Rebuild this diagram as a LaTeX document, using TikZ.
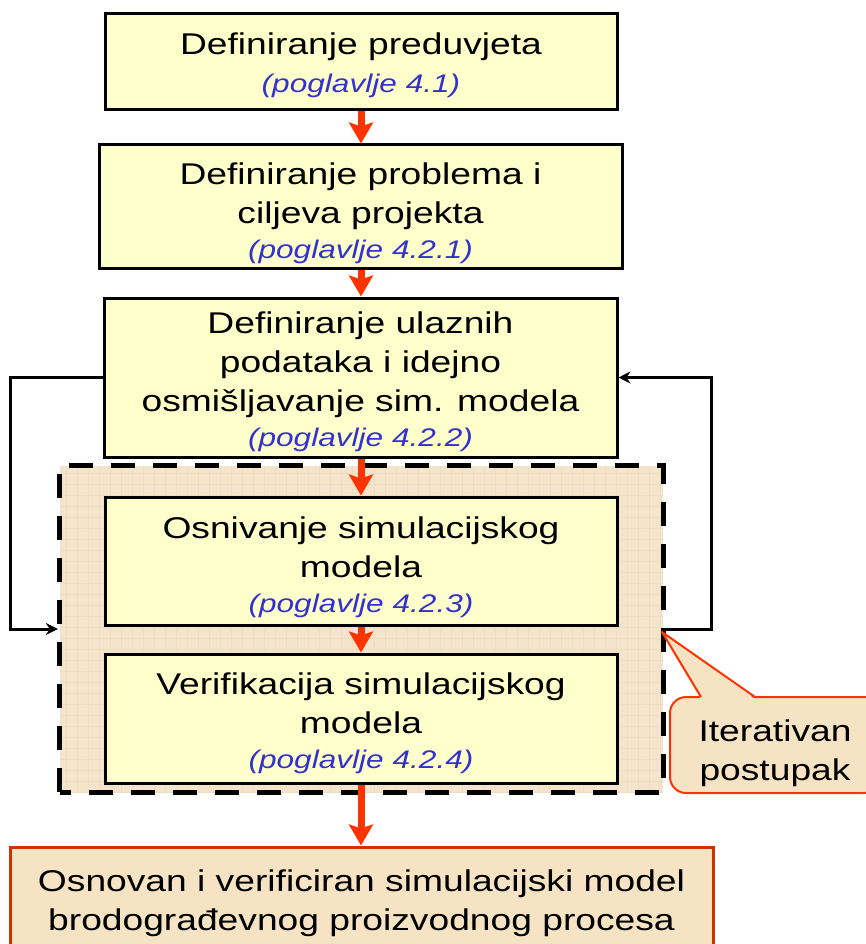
\documentclass[tikz,border=0pt]{standalone}
\usepackage{fontspec}
\setmainfont{Liberation Sans}[FakeStretch=1.24]
\usetikzlibrary{positioning,arrows.meta}
\definecolor{boxyellow}{HTML}{FFFFCC}
\definecolor{refblue}{HTML}{3333CC}
\definecolor{flowred}{HTML}{FF3300}
\definecolor{wheatfill}{HTML}{F5E3C4}
\definecolor{gridtan}{HTML}{F3E4CB}
\definecolor{gridline}{HTML}{EEDDBF}
\definecolor{resultedge}{HTML}{CC3300}
\newcommand{\chap}[1]{{\fontsize{25.5}{30}\selectfont\itshape\color{refblue}(poglavlje #1)}}
\newcommand{\lowerby}[1]{\rule{0pt}{#1pt}}
\tikzset{
x=1pt, y=-1pt,
stepbox/.style={draw=black, line width=3pt, fill=boxyellow, align=center,
  inner sep=0pt, font=\fontsize{30}{39}\selectfont}, % yellow process boxes
flow/.style={draw=flowred, line width=7pt,
  -{Stealth[length=21pt, width=24pt, inset=4pt, fill=flowred]}}, % thick red arrows
loopline/.style={draw=black, line width=3pt, -{Stealth[length=12pt, width=12pt, inset=4pt]}},
}
\begin{document}
\begin{tikzpicture}
\useasboundingbox (0,0) rectangle (866,944);

% iterative region
\node[minimum width=603pt, minimum height=326pt, inner sep=0pt] (iter) at (361.5,629) {};
\fill[gridtan] (iter.south west) rectangle (iter.north east);
\begin{scope}
  \clip (iter.south west) rectangle (iter.north east);
  \draw[gridline, line width=0.6pt, step=11pt] (iter.south west) grid (iter.north east);
\end{scope}
\draw[line width=5pt, dash pattern=on 24pt off 18pt] (iter.south west) rectangle (iter.north east);

\node[stepbox, minimum width=512pt, minimum height=96pt] (prereq) at (361,62)
  {\lowerby{28}Definiranje preduvjeta\\[-1pt] \chap{4.1}};
\node[stepbox, minimum width=523pt, minimum height=123pt] (goals) at (360.5,206.5)
  {\lowerby{36}Definiranje problema i\\ ciljeva projekta\\[-4pt] \chap{4.2.1}};
\node[stepbox, minimum width=513pt, minimum height=159pt] (inputs) at (360.5,377.5)
  {\lowerby{31}Definiranje ulaznih\\ podataka i idejno\\ osmišljavanje sim. modela\\[-4pt] \chap{4.2.2}};
\node[stepbox, minimum width=512pt, minimum height=128pt] (build) at (361,561)
  {\lowerby{34}Osnivanje simulacijskog\\ modela\\[-4pt] \chap{4.2.3}};
\node[stepbox, minimum width=512pt, minimum height=129pt, below=26pt of build] (verify)
  {\lowerby{32}Verifikacija simulacijskog\\ modela\\[-4pt] \chap{4.2.4}};
\node[draw=resultedge, line width=3pt, fill=wheatfill, align=center, inner sep=0pt,
  font=\fontsize{30}{39}\selectfont, minimum width=703pt, minimum height=104pt] (result) at (361.5,899)
  {\lowerby{30}Osnovan i verificiran simulacijski model\\ brodograđevnog proizvodnog procesa};

% callout
\node[draw=flowred, line width=2pt, fill=wheatfill, rounded corners=16pt, align=center,
  font=\fontsize{30}{39}\selectfont, minimum width=210pt, minimum height=96pt, inner sep=0pt] (note) at (775,745)
  {\lowerby{39}Iterativan\\ postupak};
\coordinate (tip) at (662,632);
\fill[wheatfill] (701,699) -- (tip) -- (755,699) -- cycle;
\draw[flowred, line width=2pt, line join=round] (701,697) -- (tip) -- (755,697);

% flow arrows
\draw[flow] (prereq.south) -- (goals.north -| prereq.south);
\draw[flow] (goals.south -| prereq.south) -- (inputs.north -| prereq.south);
\draw[flow] (inputs.south -| prereq.south) -- (build.north -| prereq.south);
\draw[flow] (build.south -| prereq.south) -- (verify.north -| prereq.south);
\draw[flow] (verify.south -| prereq.south) -- (result.north -| prereq.south);

% feedback loop
\draw[loopline] (inputs.west) -- ++(-92,0) |- ([xshift=-2pt]iter.west);
\draw[loopline] ([xshift=2pt]iter.east) -- ++(46,0) |- (inputs.east);
\end{tikzpicture}
\end{document}
